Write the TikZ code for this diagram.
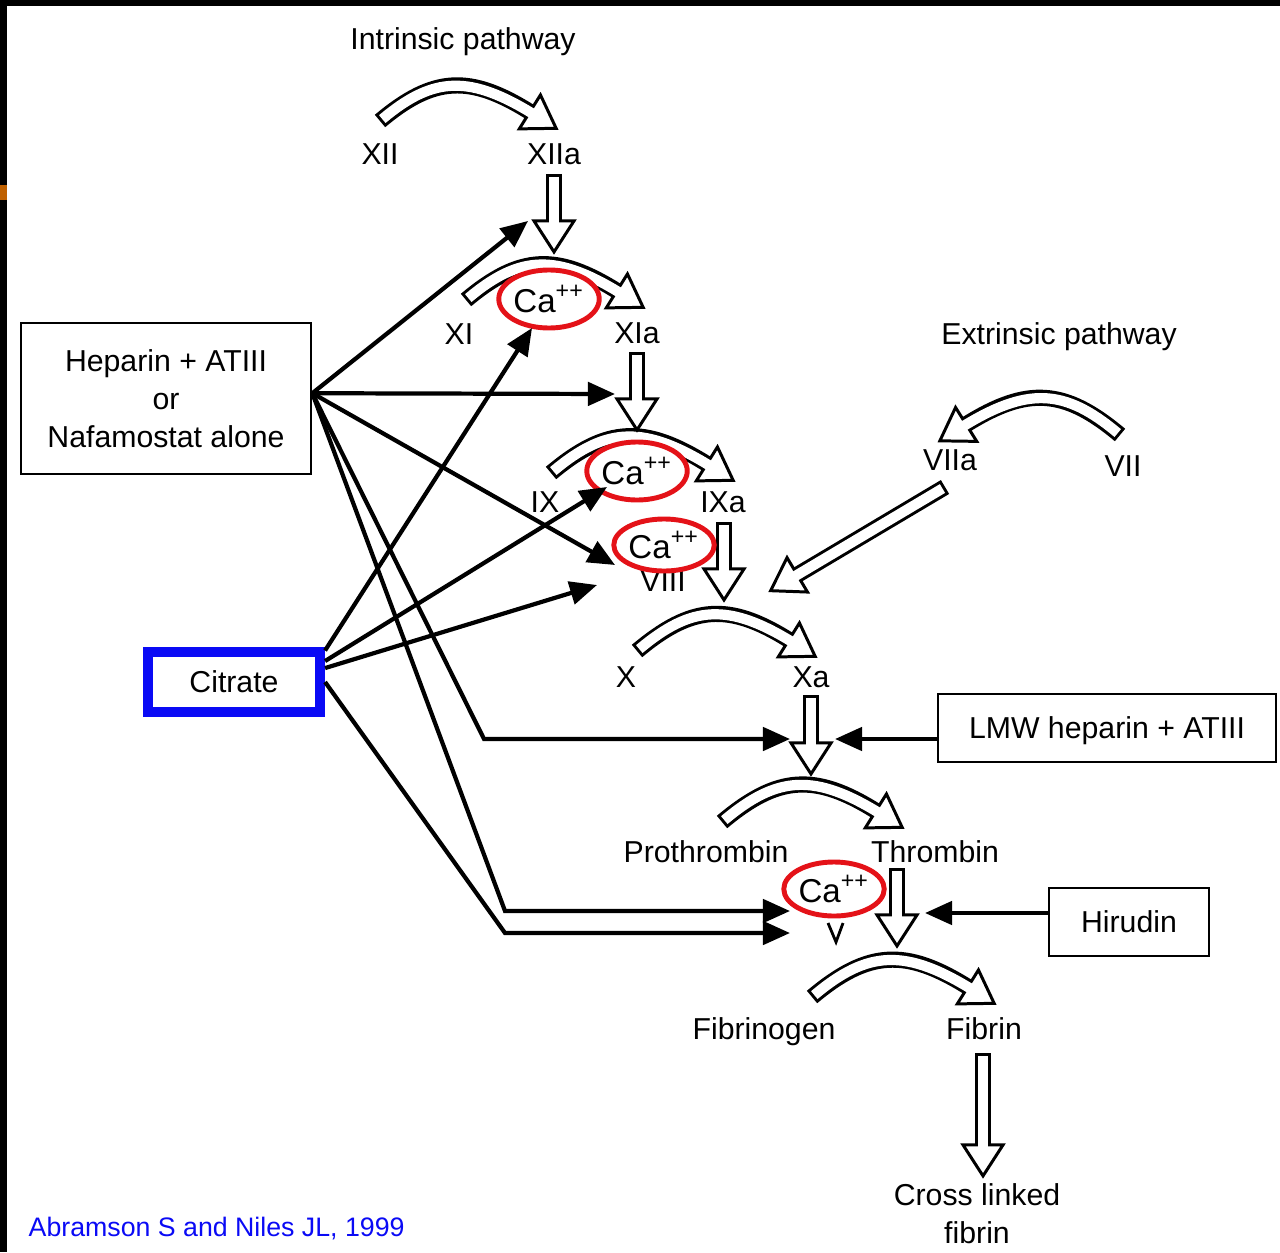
\documentclass[tikz,border=0pt]{standalone}
\usepackage{fontspec}
\setmainfont{Liberation Sans}
\usetikzlibrary{arrows.meta,shapes.geometric,decorations.markings,calc}
\definecolor{cared}{RGB}{228,18,24}
\definecolor{citblue}{RGB}{10,10,245}
\newcommand{\lblfont}{\fontsize{8.6pt}{10.8pt}\selectfont}
\newcommand{\cafont}{\fontsize{9.4pt}{11pt}\selectfont}
\newcommand{\citefont}{\fontsize{7.6pt}{9pt}\selectfont}
\tikzset{
    lbl/.style={inner sep=0pt, text height=6.2pt, text depth=0pt, font=\lblfont},
    box/.style={draw, line width=0.7pt, inner sep=0pt, text depth=0pt,
        font=\lblfont, align=center},
    ca/.style={ellipse, draw=cared, line width=1.4pt, fill=white,
        inner sep=0pt, font=\cafont},
    blk/.style={line width=1.2pt, -{Triangle[length=7.7pt, width=6.6pt]}},
    rxn/.style={out=40, in=148, looseness=1.2},
    rxnl/.style={out=140, in=32, looseness=1.2},
    fatout/.style={line width=4.6pt, postaction={decorate, decoration={markings,
        mark=at position 0.999 with {\draw[line width=0.85pt, line join=miter,
        fill=white] (0,-20) -- (31,0) -- (0,20) -- cycle;}}}},
    fatin/.style={line width=2.9pt, white, shorten <=0.85pt, shorten >=-2pt},
}
\newcommand{\fatarrow}[1]{\draw[fatout] #1; \draw[fatin] #1;}

\begin{document}
\begin{tikzpicture}[x=0.01cm, y=0.01cm]
    \useasboundingbox (0,0) rectangle (1280,-1252);
    \fill[black] (0,0) rectangle (1280,-6);
    \fill[black] (0,0) rectangle (7,-1252);
    \fill[orange!75!black] (0,-185) rectangle (7,-200);

    % factor labels
    \node[lbl] (intr) at (463,-39) {Intrinsic pathway};
    \node[lbl] (extr) at (1059,-334) {Extrinsic pathway};
    \node[lbl] (xii) at (380,-154) {XII};
    \node[lbl] (xiia) at (554,-154) {XIIa};
    \node[lbl] (xi) at (459,-334) {XI};
    \node[lbl] (xia) at (637,-333) {XIa};
    \node[lbl] (ix) at (545,-502) {IX};
    \node[lbl] (ixa) at (723,-502) {IXa};
    \node[lbl] (viii) at (663,-581) {VIII};
    \node[lbl] (x) at (626,-677) {X};
    \node[lbl] (xa) at (811,-677) {Xa};
    \node[lbl] (viia) at (950,-460) {VIIa};
    \node[lbl] (vii) at (1123,-466) {VII};
    \node[lbl] (prot) at (706,-852) {Prothrombin};
    \node[lbl] (thr) at (935,-852) {Thrombin};
    \node[lbl] (fbg) at (764,-1029) {Fibrinogen};
    \node[lbl] (fib) at (984,-1029) {Fibrin};
    \node[font=\lblfont, align=center, inner sep=0pt] (cross) at (977,-1214)
        {Cross linked\\fibrin};

    % hollow reaction arrows
    \fatarrow{($(xii)+(0,33)$) to[rxn] ($(xiia)+(-24,42)$)}
    \fatarrow{($(xi)+(7,34)$) to[rxn] ($(xia)+(-20,42)$)}
    \fatarrow{($(ix)+(6,29)$) to[rxn] ($(ixa)+(-16,38)$)}
    \fatarrow{($(x)+(11,26)$) to[rxn] ($(xa)+(-22,37)$)}
    \fatarrow{($(prot)+(16,30)$) to[rxn] ($(thr)+(-59,41)$)}
    \fatarrow{($(fbg)+(48,32)$) to[rxn] ($(fib)+(-16,42)$)}
    \fatarrow{($(vii)+(-3,31)$) to[rxnl] ($(viia)+(16,35.5)$)}
    \fatarrow{($(xiia)+(0,-20)$) -- ($(xiia)+(0,-67)$)}
    \fatarrow{($(xia)+(0,-19)$) -- ($(xia)+(0,-66)$)}
    \fatarrow{($(ixa)+(1,-20)$) -- ($(ixa)+(1,-67)$)}
    \fatarrow{($(xa)+(0,-18)$) -- ($(xa)+(0,-66)$)}
    \fatarrow{($(thr)+(-38,-16)$) -- ($(thr)+(-38,-63)$)}
    \fatarrow{($(fib)+(-1,-24)$) -- ($(fib)+(-1,-116)$)}
    \fatarrow{($(viia)+(-5,-27)$) -- ($(viia)+(-153,-115)$)}
    \draw[line width=0.8pt, line join=miter] (828,-923) -- (836,-942) -- (843,-923);

    % calcium
    \node[ca, minimum width=0.88cm, minimum height=0.58cm] (ca1) at (549,-299)
        {Ca\textsuperscript{++}};
    \node[ca, minimum width=0.88cm, minimum height=0.58cm] (ca2) at (637,-471)
        {Ca\textsuperscript{++}};
    \node[ca, minimum width=0.88cm, minimum height=0.52cm] (ca3) at (664,-545)
        {Ca\textsuperscript{++}};
    \node[ca, minimum width=0.87cm, minimum height=0.54cm] (ca4) at (834,-889)
        {Ca\textsuperscript{++}};

    % anticoagulants
    \node[box, minimum width=2.9cm, minimum height=1.51cm] (hep) at (166,-398.5)
        {Heparin + ATIII\\or\\Nafamostat alone};
    \node[box, draw=citblue, line width=2.85pt, minimum width=1.72cm,
        minimum height=0.6cm] (cit) at (234,-682) {Citrate};
    \node[box, minimum width=3.38cm, minimum height=0.68cm] (lmw) at (1107,-728)
        {LMW heparin + ATIII};
    \node[box, minimum width=1.6cm, minimum height=0.68cm] (hir) at (1129,-922)
        {Hirudin};

    \coordinate (h1) at (528,-221);
    \coordinate (h2) at (615,-394);
    \coordinate (h3) at (615,-565);
    \coordinate (h4c) at (484,-739);
    \coordinate (h4) at (790,-739);
    \coordinate (h5c) at (505,-911);
    \coordinate (h5) at (790,-911);
    \coordinate (c1) at (532,-328);
    \coordinate (c2) at (607,-487);
    \coordinate (c3) at (597,-585);
    \coordinate (c4c) at (505,-933);
    \coordinate (c4) at (790,-933);
    \coordinate (l1) at (835,-739);
    \coordinate (r1) at (925,-913);

    \draw[blk] ([yshift=1.5pt]hep.east) -- (h1);
    \draw[blk] ([yshift=1.5pt]hep.east) -- (h2);
    \draw[blk] ([yshift=1.5pt]hep.east) -- (h3);
    \draw[blk] ([yshift=1.5pt]hep.east) -- (h4c) -- (h4);
    \draw[blk] ([yshift=1.5pt]hep.east) -- (h5c) -- (h5);
    \draw[blk] ([yshift=-1pt]cit.north east) -- (c1);
    \draw[blk] ([yshift=-4pt]cit.north east) -- (c2);
    \draw[blk] ([yshift=-6pt]cit.north east) -- (c3);
    \draw[blk] (cit.east) -- (c4c) -- (c4);
    \draw[blk] (lmw.west |- l1) -- (l1);
    \draw[blk] (hir.west |- r1) -- (r1);

    \node[anchor=west, font=\citefont, text=citblue, inner sep=0pt] (cite)
        at (28,-1229) {Abramson S and Niles JL, 1999};
\end{tikzpicture}
\end{document}
